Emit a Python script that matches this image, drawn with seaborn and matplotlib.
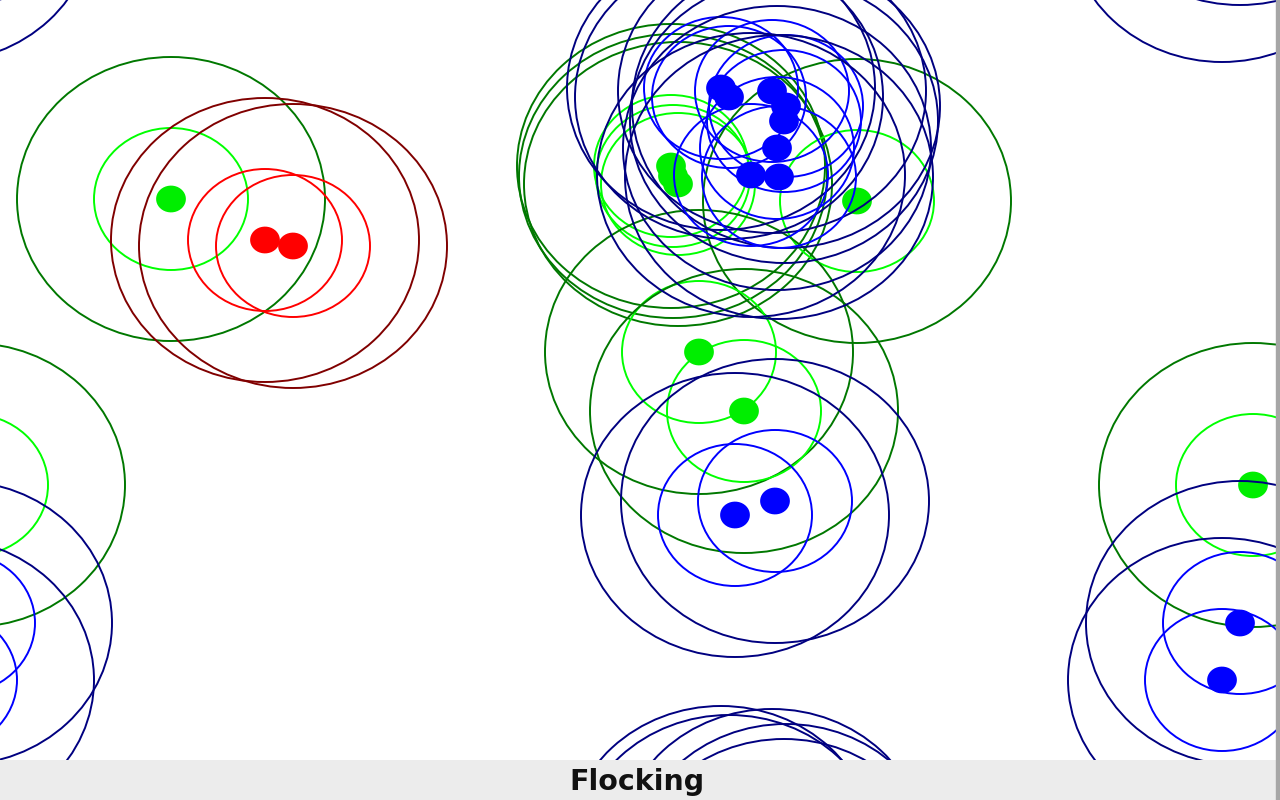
import numpy as np
import pandas as pd
import matplotlib.pyplot as plt
import seaborn as sns
from matplotlib.patches import Ellipse, Rectangle
from matplotlib.path import Path

# ── Agents (screen pixels, y down) ────────────────────────────────────────────
green_x = [171, 671, 673, 678, 857, 699, 744, 1253]
green_y = [199, 166, 176, 184, 201, 352, 411, 485]

red_x = [265, 293]
red_y = [240, 246]

blue_x = [721, 729, 772, 786, 784, 777, 751, 779, 735, 775, 1240, 1222]
blue_y = [88, 97, 91, 106, 121, 148, 175, 177, 515, 501, 623, 680]

# toroidal world, in pixels
world_w = 1282
world_h = 760

species = [
    # name, x, y, dot colour, inner ring, outer ring
    ("green", green_x, green_y, "#00ee00", "#00ff00", "#007800"),
    ("red",   red_x,   red_y,   "#ff0000", "#ff0000", "#800000"),
    ("blue",  blue_x,  blue_y,  "#0000ff", "#0000ff", "#000080"),
]

# ── Figure ────────────────────────────────────────────────────────────────────
sns.set_theme(style="white")
fig = plt.figure(figsize=(12.8, 8), dpi=100)
fig.patch.set_facecolor("#ececec")
ax = fig.add_axes([0, 40 / 800, 1276 / 1280, 760 / 800])
ax.set_facecolor("white")
ax.set_xlim(0, 1276)
ax.set_ylim(760, 0)
ax.set_xticks([])
ax.set_yticks([])
for s in ax.spines.values():
    s.set_visible(False)

# slightly squashed dot marker (29 x 26 px)
t = np.linspace(0, 2 * np.pi, 40)
dot_marker = Path(np.column_stack([np.cos(t), 0.9 * np.sin(t)]), closed=True)

lw = 1.4
z = 1
for name, xs, ys, c_dot, c_in, c_out in species:
    df = pd.DataFrame({"x": xs, "y": ys})
    for x, y in zip(xs, ys):
        for dx in (-world_w, 0, world_w):
            for dy in (-world_h, 0, world_h):
                ax.add_patch(Ellipse((x + dx, y + dy), 154, 142, fill=False,
                                     ec=c_in, lw=lw, zorder=z))
                ax.add_patch(Ellipse((x + dx, y + dy), 308, 284, fill=False,
                                     ec=c_out, lw=lw, zorder=z))
    sns.scatterplot(data=df, x="x", y="y", ax=ax, color=c_dot, marker=dot_marker,
                    s=460, linewidth=0, edgecolor="none", zorder=z + 1, legend=False)
    z += 2

ax.set_xlabel("")
ax.set_ylabel("")

# window chrome: right border + title strip
fig.patches.append(Rectangle((1276 / 1280, 0), 4 / 1280, 1, transform=fig.transFigure,
                             color="#a6a6a6", zorder=10))
fig.text(636.5 / 1280, 10 / 800, "Flocking", ha="center", va="baseline",
         fontsize=20.5, fontweight="bold", color="#111111")

fig.savefig("out.png", dpi=100, facecolor=fig.get_facecolor())
